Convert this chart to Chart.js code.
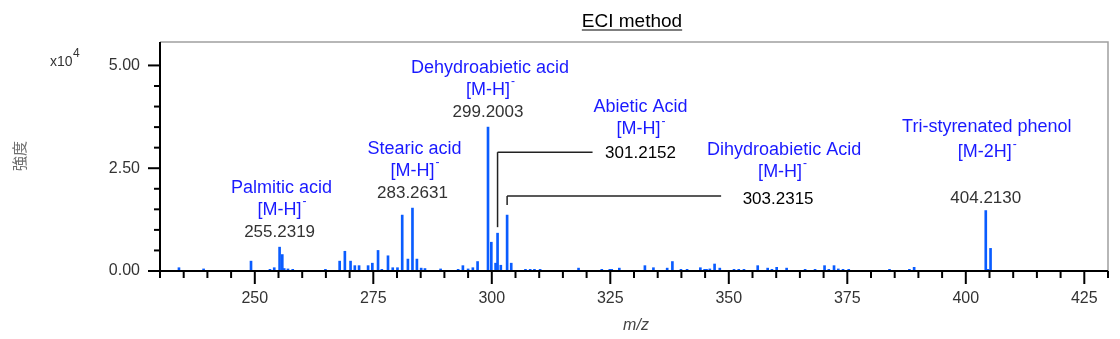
<!DOCTYPE html>
<html>
<head>
<meta charset="utf-8">
<script src="https://cdn.jsdelivr.net/npm/chart.js@4.4.1/dist/chart.umd.min.js"></script>
<style>
  html, body { margin: 0; padding: 0; background: #fff; }
  #wrap { width: 1120px; height: 339px; }
</style>
</head>
<body>
<div id="wrap"><canvas id="ms"></canvas></div>
<script>
  // ---- DATA (intensity in x10^4 counts) ----
  const mz = [
    234.0, 239.2, 249.2, 253.2, 254.1, 255.2319, 255.8, 256.2, 257.0, 258.0,
    264.9, 267.9, 269.0, 270.2, 271.1, 272.0, 273.9, 274.8, 276.0, 276.8,
    278.1, 279.1, 280.1, 281.1, 282.3, 283.2631, 284.2, 285.1, 285.9, 289.2,
    292.9, 293.9, 295.0, 296.0, 297.0, 299.2003, 299.9, 300.8, 301.2152, 301.9,
    303.2315, 304.1, 307.1, 308.1, 309.0, 310.2, 318.3, 323.2, 324.9, 325.3,
    326.9, 332.3, 334.1, 337.0, 338.1, 339.9, 341.2, 344.0, 344.9, 345.3,
    346.0, 347.0, 348.1, 351.1, 352.1, 353.2, 356.1, 358.2, 359.1, 360.1,
    362.2, 366.1, 368.2, 370.2, 371.1, 372.2, 373.1, 374.1, 375.3, 383.9,
    388.1, 389.1, 404.2130, 404.7, 405.22
  ];
  const intensity = [
    0.08, 0.05, 0.24, 0.04, 0.08, 0.58, 0.40, 0.06, 0.05, 0.04,
    0.04, 0.24, 0.48, 0.24, 0.13, 0.13, 0.13, 0.19, 0.50, 0.04,
    0.37, 0.08, 0.08, 1.36, 0.29, 1.53, 0.29, 0.07, 0.06, 0.05,
    0.04, 0.13, 0.05, 0.08, 0.23, 3.50, 0.70, 0.19, 0.92, 0.14,
    1.36, 0.19, 0.04, 0.04, 0.04, 0.04, 0.07, 0.04, 0.04, 0.04,
    0.07, 0.13, 0.08, 0.07, 0.23, 0.04, 0.04, 0.08, 0.04, 0.04,
    0.05, 0.17, 0.07, 0.04, 0.04, 0.04, 0.13, 0.07, 0.04, 0.09,
    0.07, 0.04, 0.04, 0.13, 0.04, 0.13, 0.05, 0.04, 0.04, 0.04,
    0.04, 0.09, 1.47, 0.04, 0.55
  ];
  const xLabels = [250, 275, 300, 325, 350, 375, 400, 425];
  const yLabels = [0, 2.5, 5];

  // labelled peaks
  const peakMz = [255.2319, 283.2631, 299.2003, 301.2152, 303.2315, 404.2130];
  const peakNames = ['Palmitic acid', 'Stearic acid', 'Dehydroabietic acid', 'Abietic Acid', 'Dihydroabietic Acid', 'Tri-styrenated phenol'];
  const peakIons = ['[M-H]', '[M-H]', '[M-H]', '[M-H]', '[M-H]', '[M-2H]'];

  const FAM = '"Liberation Sans", Arial, sans-serif';
  const BLUE = '#1a1aff';

  function topOf(m) {
    const i = mz.indexOf(m);
    return intensity[i];
  }

  // text with its cap-height centre at cy
  function capText(ctx, str, x, cy, size, color, align) {
    ctx.font = size + 'px ' + FAM;
    ctx.fillStyle = color;
    ctx.textAlign = align || 'center';
    ctx.textBaseline = 'alphabetic';
    ctx.fillText(str, x, cy + size * 0.358);
  }

  function ionText(ctx, str, cx, cy) {
    ctx.font = '18px ' + FAM;
    const w = ctx.measureText(str).width;
    ctx.font = '12px ' + FAM;
    const sw = ctx.measureText('-').width;
    const left = cx - (w + sw) / 2;
    capText(ctx, str, left, cy, 18, BLUE, 'left');
    capText(ctx, '-', left + w + 1, cy - 7, 12, BLUE, 'left');
  }

  function seg(ctx, x1, y1, x2, y2) {
    ctx.beginPath();
    ctx.moveTo(x1, y1);
    ctx.lineTo(x2, y2);
    ctx.stroke();
  }

  const decor = {
    id: 'decor',
    afterDatasetsDraw(chart) {
      const { ctx, chartArea: a, scales: { x, y } } = chart;
      ctx.save();

      // frame (top/right)
      ctx.strokeStyle = '#a0a0a0';
      ctx.lineWidth = 1.5;
      ctx.beginPath();
      ctx.moveTo(a.left, a.top);
      ctx.lineTo(a.right, a.top);
      ctx.lineTo(a.right, a.bottom);
      ctx.stroke();

      // axes
      ctx.strokeStyle = '#000';
      ctx.lineWidth = 2;
      seg(ctx, a.left, a.top, a.left, a.bottom);
      seg(ctx, a.left - 1, a.bottom, a.right, a.bottom);

      // tick marks
      x.ticks.forEach(t => {
        if (Math.abs(t.value / 5 - Math.round(t.value / 5)) > 1e-6) return;
        const px = x.getPixelForValue(t.value);
        const major = t.value % 25 === 0;
        seg(ctx, px, a.bottom, px, a.bottom + (major ? 13 : 7));
      });
      y.ticks.forEach(t => {
        if (Math.abs(t.value / 0.5 - Math.round(t.value / 0.5)) > 1e-6) return;
        const py = y.getPixelForValue(t.value);
        const major = Math.abs(t.value / 2.5 - Math.round(t.value / 2.5)) < 1e-6;
        seg(ctx, a.left, py, a.left - (major ? 12 : 6), py);
      });

      // title
      capText(ctx, 'ECI method', 632, 20, 19, '#000');
      ctx.font = '19px ' + FAM;
      const tw = ctx.measureText('ECI method').width;
      ctx.lineWidth = 1.2;
      seg(ctx, 632 - tw / 2, 30, 632 + tw / 2, 30);

      // multiplier
      capText(ctx, 'x10', 50, 61, 14, '#333', 'left');
      capText(ctx, '4', 73, 53, 12, '#333', 'left');

      // y title
      ctx.save();
      ctx.translate(19, 156);
      ctx.rotate(-Math.PI / 2);
      ctx.font = '15px "Noto Sans CJK JP", sans-serif';
      ctx.fillStyle = '#707070';
      ctx.textAlign = 'center';
      ctx.textBaseline = 'middle';
      ctx.fillText('強度', 0, 0);
      ctx.restore();

      // x title
      ctx.font = 'italic 16px ' + FAM;
      ctx.fillStyle = '#444';
      ctx.textAlign = 'center';
      ctx.textBaseline = 'alphabetic';
      ctx.fillText('m/z', 636, 330);

      // peak annotations
      const P = peakMz.map(m => ({ px: x.getPixelForValue(m), py: y.getPixelForValue(topOf(m)) }));
      const numStr = m => m.toFixed(4);

      // centred blocks above peaks
      [0, 1, 2].forEach(i => {
        const { px, py } = P[i];
        capText(ctx, peakNames[i], px + 2, py - 61, 18, BLUE);
        ionText(ctx, peakIons[i], px + 2, py - 39);
        capText(ctx, numStr(peakMz[i]), px, py - 16, 17, '#333');
      });

      // leader lines
      ctx.strokeStyle = '#222';
      ctx.lineWidth = 1.5;
      {
        const { px, py } = P[3];
        const ly = py - 81;
        seg(ctx, px, py - 6, px, ly);
        seg(ctx, px, ly, px + 95, ly);
        const cx = px + 143;
        capText(ctx, peakNames[3], cx, ly - 47, 18, BLUE);
        ionText(ctx, peakIons[3], cx, ly - 24.5);
        capText(ctx, numStr(peakMz[3]), cx, ly, 17, '#000');
      }
      {
        const { px, py } = P[4];
        const ly = py - 19;
        seg(ctx, px, py - 10, px, ly);
        seg(ctx, px, ly, px + 214, ly);
        const cx = px + 275;
        capText(ctx, peakNames[4], cx + 2, ly - 48, 18, BLUE);
        ionText(ctx, peakIons[4], cx, ly - 26);
        capText(ctx, numStr(peakMz[4]), cx - 4, ly + 2, 17, '#000');
      }
      {
        const { px, py } = P[5];
        capText(ctx, peakNames[5], px + 1, py - 85, 18, BLUE);
        ionText(ctx, peakIons[5], px + 1, py - 60);
        capText(ctx, numStr(peakMz[5]), px, py - 14, 17, '#333');
      }

      ctx.restore();
    }
  };

  const ctx = document.getElementById('ms').getContext('2d');
  new Chart(ctx, {
    type: 'bar',
    data: {
      datasets: [{
        label: 'ECI method',
        data: mz.map((m, i) => ({ x: m, y: intensity[i] })),
        backgroundColor: '#0a5cff',
        barThickness: 2,
        borderWidth: 0
      }]
    },
    options: {
      responsive: true,
      maintainAspectRatio: false,
      animation: false,
      layout: { padding: { top: 42, right: 12, left: 0, bottom: 0 } },
      plugins: { legend: { display: false }, tooltip: { enabled: false } },
      scales: {
        x: {
          type: 'linear',
          offset: false,
          min: 230, max: 430,
          grid: { display: false, drawTicks: false, offset: false },
          border: { display: false },
          afterFit: s => { s.height = 68; s.paddingLeft = 0; s.paddingRight = 0; },
          ticks: {
            stepSize: 5,
            maxTicksLimit: 100,
            autoSkip: false,
            maxRotation: 0,
            padding: 18,
            color: '#333',
            font: { family: FAM, size: 16 },
            callback: v => xLabels.includes(v) ? String(v) : ''
          }
        },
        y: {
          min: 0, max: 5.57,
          grid: { display: false, drawTicks: false },
          border: { display: false },
          afterFit: s => { s.width = 160; s.paddingTop = 0; s.paddingBottom = 0; },
          ticks: {
            stepSize: 0.5,
            maxTicksLimit: 100,
            autoSkip: false,
            padding: 20,
            color: '#333',
            font: { family: FAM, size: 16 },
            callback: v => yLabels.some(l => Math.abs(l - v) < 1e-6) ? v.toFixed(2) : ''
          }
        }
      }
    },
    plugins: [decor]
  });
</script>
</body>
</html>
